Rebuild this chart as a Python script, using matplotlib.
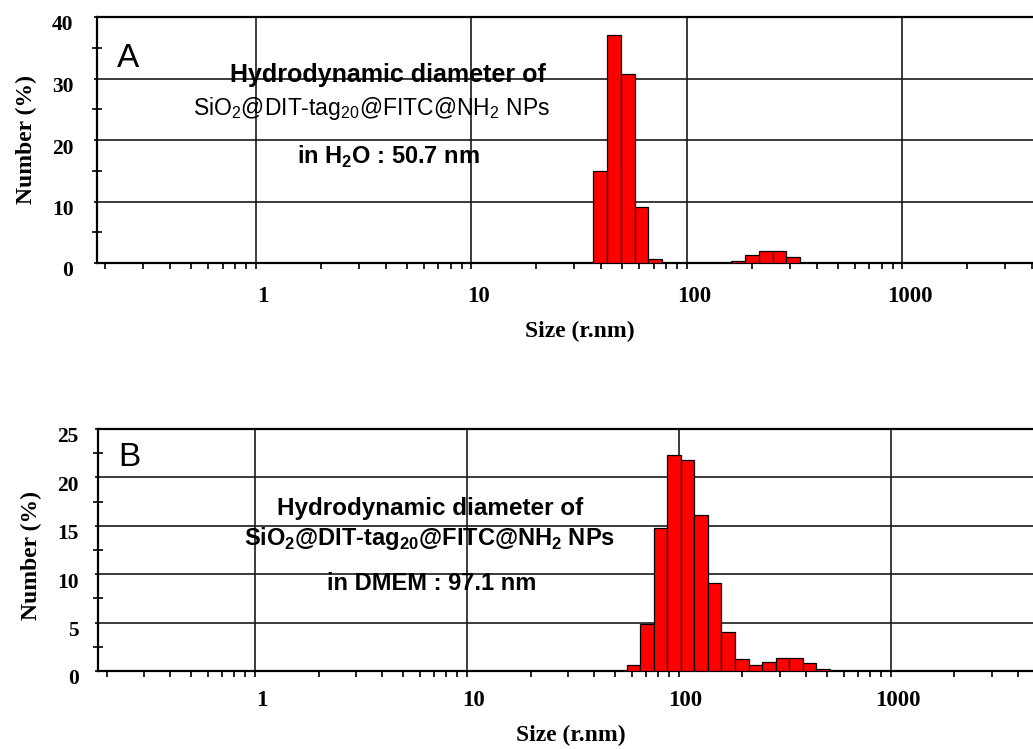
import numpy as np
import matplotlib
matplotlib.use('Agg')
import matplotlib.pyplot as plt
import matplotlib.transforms as mtransforms
from matplotlib.ticker import LogLocator, NullFormatter, MultipleLocator

# size distribution by number
sizes_a = [39.5, 45.8, 53.1, 61.5, 71.3, 172.6, 200.0, 231.9, 268.7, 311.5]
number_a = [15.0, 37.1, 30.7, 9.1, 0.7, 0.3, 1.3, 2.0, 2.0, 1.0]

sizes_b = [61.1, 70.8, 82.1, 95.1, 110.2, 127.7, 147.9, 171.4, 198.6,
           230.1, 266.6, 308.9, 357.9, 414.8, 480.6]
number_b = [0.6, 4.9, 14.8, 22.3, 21.8, 16.1, 9.1, 4.0, 1.2,
            0.6, 0.9, 1.37, 1.37, 0.8, 0.2]

bin_ratio = 1.1587          # log-spaced size classes
x_ticks = [1, 10, 100, 1000]

serif = 'Liberation Serif'
sans = 'Liberation Sans'

fig = plt.figure(figsize=(10.33, 7.49), dpi=100)
W, H = 1033.0, 749.0


def px(x, y):
    return x / W, 1 - y / H


def draw_panel(ax, sizes, values, xlim, ymax, ystep, ypad, xpad):
    s = np.array(sizes)
    left = s / np.sqrt(bin_ratio)
    width = s * np.sqrt(bin_ratio) - left
    ax.bar(left, values, width=width, align='edge', color='#ff0000',
           edgecolor='black', linewidth=0.9, zorder=3)

    ax.set_xscale('log')
    ax.set_xlim(*xlim)
    ax.set_ylim(0, ymax)
    ax.set_xticks(x_ticks, labels=[str(t) for t in x_ticks])
    ax.xaxis.set_minor_locator(LogLocator(base=10, subs=range(2, 10)))
    ax.xaxis.set_minor_formatter(NullFormatter())
    ax.yaxis.set_major_locator(MultipleLocator(ystep))
    ax.yaxis.set_minor_locator(MultipleLocator(ystep / 2))

    ax.set_axisbelow(True)
    ax.grid(True, which='major', color='#1a1a1a', linewidth=1.2)
    ax.grid(False, which='minor')

    for side in ['left', 'bottom', 'top']:
        ax.spines[side].set_linewidth(1.6)
    ax.spines['right'].set_visible(False)

    ax.tick_params(axis='x', which='both', direction='out', length=4.5,
                   width=1.2, pad=xpad)
    ax.tick_params(axis='y', which='major', direction='out', length=2,
                   width=1.2, pad=ypad)
    ax.tick_params(axis='y', which='minor', direction='inout', length=7,
                   width=1.2)
    ax.tick_params(right=False, top=False, which='both')

    for lab in ax.get_xticklabels():
        lab.set_fontfamily(serif)
        lab.set_fontweight('bold')
        lab.set_fontsize(16.5)
    for lab in ax.get_yticklabels():
        lab.set_fontfamily(serif)
        lab.set_fontweight('bold')
        lab.set_fontsize(15.5)
    shift_x = mtransforms.ScaledTranslation(0.07, 0, fig.dpi_scale_trans)
    for lab in ax.get_xticklabels():
        lab.set_transform(lab.get_transform() + shift_x)
    shift_y = mtransforms.ScaledTranslation(0, -0.06, fig.dpi_scale_trans)
    for lab in ax.get_yticklabels():
        lab.set_transform(lab.get_transform() + shift_y)


ax_a = fig.add_axes([97 / W, 1 - 263 / H, (W - 97) / W, (263 - 17) / H])
ax_b = fig.add_axes([98 / W, 1 - 671 / H, (W - 98) / W, (671 - 429) / H])

draw_panel(ax_a, sizes_a, number_a, (0.183, 4036), 40, 10, ypad=15, xpad=12)
draw_panel(ax_b, sizes_b, number_b, (0.182, 4699), 25, 5, ypad=12, xpad=9)

label_kw = dict(fontfamily=serif, fontweight='bold', fontsize=17)
ax_a.set_ylabel('Number (%)', **label_kw)
ax_a.yaxis.set_label_coords(-0.064, 0.5)
ax_a.set_xlabel('Size (r.nm)', **label_kw)
ax_a.xaxis.set_label_coords(0.516, -0.236)
ax_b.set_ylabel('Number (%)', **label_kw)
ax_b.yaxis.set_label_coords(-0.060, 0.479)
ax_b.set_xlabel('Size (r.nm)', **label_kw)
ax_b.xaxis.set_label_coords(0.506, -0.222)

# panel letters
fig.text(*px(117, 67), 'A', fontfamily=sans, fontsize=24, ha='left', va='baseline')
fig.text(*px(118, 466), 'B', fontfamily=sans, fontsize=24, ha='left', va='baseline')

formula = r'SiO$_\mathregular{2}$@DIT-tag$_\mathregular{20}$@FITC@NH$_\mathregular{2}$ NPs'
txt = dict(fontfamily=sans, ha='center', va='center')

fig.text(*px(388, 75), 'Hydrodynamic diameter of', fontweight='bold', fontsize=18, **txt)
fig.text(*px(371, 108), formula, fontweight='normal', fontsize=16.5, **txt)
fig.text(*px(388, 157), r'in H$_\mathregular{2}$O : 50.7 nm', fontweight='bold', fontsize=17, **txt)

fig.text(*px(430, 508), 'Hydrodynamic diameter of', fontweight='bold', fontsize=17.5, **txt)
fig.text(*px(430, 539), formula, fontweight='bold', fontsize=17, **txt)
fig.text(*px(432, 583), 'in DMEM : 97.1 nm', fontweight='bold', fontsize=17, **txt)

fig.savefig('out.png', dpi=100)
